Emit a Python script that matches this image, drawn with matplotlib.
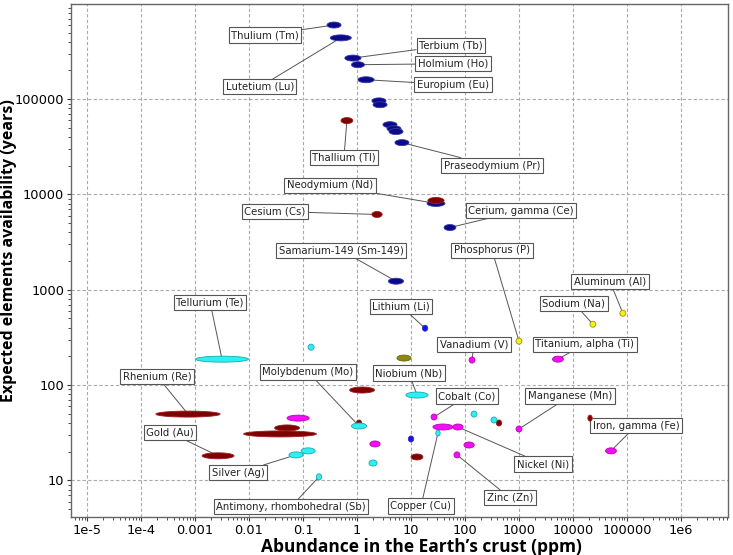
import numpy as np
import matplotlib
matplotlib.use("Agg")
import matplotlib.pyplot as plt
from matplotlib.ticker import LogLocator, FixedLocator, FixedFormatter, NullFormatter

# each series: abundance (ppm), availability (years), width of the
# abundance range (decades), label ('' = no label)
navy_x = [0.375, 0.5, 0.84, 1.04, 1.47, 2.55, 2.67, 4.08, 4.84, 5.27, 6.8, 29, 52.7, 5.27]
navy_y = [600000, 440000, 270000, 230000, 160000, 96000, 87500, 54000, 49000, 45700, 35000, 8050, 4500, 1230]
navy_w = [0.26, 0.39, 0.30, 0.24, 0.30, 0.26, 0.26, 0.26, 0.26, 0.26, 0.26, 0.33, 0.22, 0.28]
navy_lab = ["Thulium (Tm)", "Lutetium (Lu)", "Terbium (Tb)", "Holmium (Ho)", "Europium (Eu)",
            "", "", "", "", "", "Praseodymium (Pr)", "Neodymium (Nd)", "Cerium, gamma (Ce)",
            "Samarium-149 (Sm-149)"]

blue_x = [18.2, 10]
blue_y = [395, 27.2]
blue_w = [0.10, 0.10]
blue_lab = ["Lithium (Li)", ""]

red_x = [0.65, 29, 2.35, 7.4e-4, 2.67e-3, 0.0506, 0.0375, 1.24, 1.09, 12.9, 426, 20700]
red_y = [59600, 8650, 6170, 49.6, 18.1, 35.5, 30.7, 88.7, 40, 17.6, 40, 45]
red_w = [0.22, 0.30, 0.19, 1.19, 0.59, 0.46, 1.35, 0.46, 0.10, 0.22, 0.10, 0.08]
red_lab = ["Thallium (Tl)", "", "Cesium (Cs)", "Rhenium (Re)", "Gold (Au)",
           "", "", "", "", "", "", ""]

cyan_x = [3.16e-3, 0.141, 1.09, 0.074, 0.124, 0.198, 12.9, 1.98, 147, 344, 31.6]
cyan_y = [187, 250, 37.2, 18.5, 20.4, 10.9, 78.6, 15.2, 49.6, 43, 31.4]
cyan_w = [0.98, 0.11, 0.28, 0.26, 0.26, 0.10, 0.41, 0.15, 0.11, 0.11, 0.08]
cyan_lab = ["Tellurium (Te)", "", "Molybdenum (Mo)", "Silver (Ag)", "",
            "Antimony, rhombohedral (Sb)", "Niobium (Nb)", "", "", "", "Copper (Cu)"]

mag_x = [0.081, 2.15, 135, 26.7, 39, 74, 119, 71, 1000, 5270, 50600]
mag_y = [45, 24.1, 183, 46.2, 36.3, 36.3, 23.5, 18.5, 34.6, 187, 20.4]
mag_w = [0.41, 0.19, 0.11, 0.11, 0.37, 0.19, 0.19, 0.11, 0.11, 0.20, 0.20]
mag_lab = ["", "", "Vanadium (V)", "Cobalt (Co)", "", "Nickel (Ni)", "", "Zinc (Zn)",
           "Manganese (Mn)", "Titanium, alpha (Ti)", "Iron, gamma (Fe)"]

olive_x = [7.4]
olive_y = [192]
olive_w = [0.26]
olive_lab = [""]

yel_x = [1000, 23400, 84000]
yel_y = [289, 435, 567]
yel_w = [0.11, 0.11, 0.11]
yel_lab = ["Phosphorus (P)", "Sodium (Na)", "Aluminum (Al)"]

x_ticks = [1e-5, 1e-4, 1e-3, 1e-2, 0.1, 1, 10, 100, 1000, 1e4, 1e5, 1e6]
x_ticklabels = ["1e-5", "1e-4", "0.001", "0.01", "0.1", "1", "10", "100", "1000",
                "10000", "100000", "1e6"]
y_ticks = [10, 100, 1000, 10000, 100000]
y_ticklabels = ["10", "100", "1000", "10000", "100000"]

# label offsets from the point, in pixels (right, up)
label_off = {
    "Thulium (Tm)": (-69, -10), "Lutetium (Lu)": (-81, -49), "Terbium (Tb)": (98, 13),
    "Holmium (Ho)": (95, 1), "Europium (Eu)": (87, -5), "Praseodymium (Pr)": (90, -23),
    "Thallium (Tl)": (-3, -37), "Neodymium (Nd)": (-106, 18), "Cesium (Cs)": (-102, 3),
    "Cerium, gamma (Ce)": (71, 17), "Samarium-149 (Sm-149)": (-55, 31),
    "Phosphorus (P)": (-27, 91), "Aluminum (Al)": (-13, 32), "Sodium (Na)": (-19, 21),
    "Lithium (Li)": (-24, 22), "Tellurium (Te)": (-12, 57), "Vanadium (V)": (2, 16),
    "Titanium, alpha (Ti)": (27, 15), "Rhenium (Re)": (-31, 38),
    "Molybdenum (Mo)": (-51, 54), "Niobium (Nb)": (-8, 22), "Cobalt (Co)": (33, 21),
    "Manganese (Mn)": (51, 33), "Iron, gamma (Fe)": (25, 25), "Gold (Au)": (-48, 23),
    "Nickel (Ni)": (85, -37), "Silver (Ag)": (-58, -18), "Zinc (Zn)": (53, -43),
    "Antimony, rhombohedral (Sb)": (-28, -30), "Copper (Cu)": (-17, -73),
}

series = [
    (navy_x, navy_y, navy_w, navy_lab, "#0a0a8a", "#3a3aa8"),
    (blue_x, blue_y, blue_w, blue_lab, "#1414d8", "#3030e0"),
    (red_x, red_y, red_w, red_lab, "#7e0000", "#9a2020"),
    (cyan_x, cyan_y, cyan_w, cyan_lab, "#2ef0f0", "#1aa8b0"),
    (mag_x, mag_y, mag_w, mag_lab, "#f010f0", "#c000c0"),
    (olive_x, olive_y, olive_w, olive_lab, "#8a8a10", "#6a6a00"),
    (yel_x, yel_y, yel_w, yel_lab, "#f4f020", "#a09000"),
]

fig = plt.figure(figsize=(7.33, 5.55), dpi=100)
ax = fig.add_axes([0.097, 0.068, 0.896, 0.925])
ax.set_xscale("log")
ax.set_yscale("log")
ax.set_xlim(5.06e-6, 7.4e6)
ax.set_ylim(4.1, 1.0e6)

h = 6 / 95.5 / 2  # half height of the marks, decades
t = np.linspace(0, 2 * np.pi, 80)
for xs, ys, ws, labs, fc, ec in series:
    for x, y, w, lab in zip(xs, ys, ws, labs):
        ex = 10 ** (np.log10(x) + w / 2 * np.cos(t))
        ey = 10 ** (np.log10(y) + h * np.sin(t))
        ax.fill(ex, ey, fc=fc, ec=ec, lw=0.6, zorder=4)
        if lab:
            dx, dy = label_off[lab]
            ax.annotate(lab, xy=(x, y), xytext=(dx * 0.72, dy * 0.72),
                        textcoords="offset points", ha="center", va="center",
                        fontsize=7.3, color="#222222", zorder=3,
                        bbox=dict(boxstyle="square,pad=0.25", fc="white",
                                  ec="#555555", lw=0.8),
                        arrowprops=dict(arrowstyle="-", color="#555555", lw=0.7,
                                        shrinkA=0, shrinkB=0))

ax.xaxis.set_major_locator(FixedLocator(x_ticks))
ax.xaxis.set_major_formatter(FixedFormatter(x_ticklabels))
ax.yaxis.set_major_locator(FixedLocator(y_ticks))
ax.yaxis.set_major_formatter(FixedFormatter(y_ticklabels))
ax.xaxis.set_minor_locator(LogLocator(base=10, subs=np.arange(2, 10), numticks=30))
ax.yaxis.set_minor_locator(LogLocator(base=10, subs=np.arange(2, 10), numticks=30))
ax.xaxis.set_minor_formatter(NullFormatter())
ax.yaxis.set_minor_formatter(NullFormatter())
ax.tick_params(which="major", length=3, width=0.8, colors="#333333", labelcolor="black")
ax.tick_params(axis="x", which="major", labelsize=9.3, pad=2)
ax.tick_params(axis="y", which="major", labelsize=9.3, pad=2)
ax.tick_params(which="minor", length=2, width=0.6, colors="#333333")

ax.grid(True, which="major", color="#aaaaaa", linestyle=(0, (3, 2)), lw=0.8)
ax.set_axisbelow(True)
for s in ax.spines.values():
    s.set_color("#666666")
    s.set_linewidth(1.0)

ax.set_xlabel("Abundance in the Earth\u2019s crust (ppm)", fontsize=12.5, fontweight="bold",
              family="Open Sans", va="center")
ax.xaxis.set_label_coords(0.533, -0.058)
ax.set_ylabel("Expected elements availability (years)", fontsize=11.5, fontweight="bold",
              family="Open Sans", va="center")
ax.yaxis.set_label_coords(-0.094, 0.52)

fig.savefig("out.png", dpi=100)
